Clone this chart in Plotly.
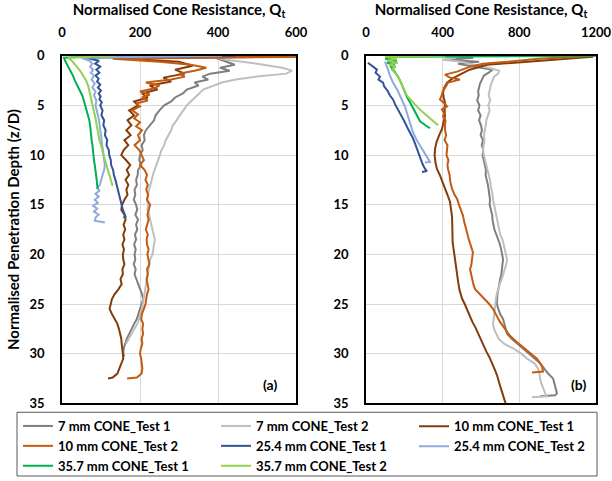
import plotly.graph_objects as go

# ---------------- data: (depth z/D, normalised cone resistance Qt) ----------------
SERIES_NAMES = ["7 mm CONE_Test 1", "7 mm CONE_Test 2", "10 mm CONE_Test 1", "10 mm CONE_Test 2",
                "25.4 mm CONE_Test 1", "25.4 mm CONE_Test 2", "35.7 mm CONE_Test 1", "35.7 mm CONE_Test 2"]
COLORS = ["#7F7F7F", "#BFBFBF", "#843C0C", "#C55A11", "#2F5597", "#8FAADC", "#00B050", "#92D050"]
# legend column of each series (reference legend reads row by row, three per row)
LEGEND_COLUMN = ["legend", "legend2", "legend3", "legend", "legend2", "legend3", "legend", "legend2"]

# Panel (a)
A_7_1 = [(0, 380), (0.3, 400), (0.6, 425), (0.9, 443), (1.2, 405), (1.5, 430), (1.8, 380), (2.1, 360), (2.4, 375),
         (2.7, 340), (3.0, 350), (3.4, 320), (3.8, 310), (4.2, 290), (4.6, 280), (5.0, 262), (5.5, 250), (6.0, 240),
         (6.5, 236), (7.0, 226), (7.5, 215), (8.0, 210), (8.5, 212), (9.0, 204), (9.5, 207), (10.0, 200), (10.5, 198),
         (11.0, 203), (11.5, 195), (12.0, 194), (12.5, 190), (13.0, 192), (13.5, 186), (14.0, 188), (14.5, 184),
         (15.0, 190), (15.5, 193), (16.0, 188), (16.5, 195), (17.0, 190), (17.5, 193), (18.0, 187), (18.5, 190),
         (19.0, 185), (19.5, 189), (20.0, 186), (20.5, 188), (21.0, 184), (21.5, 189), (22.0, 186), (22.5, 191),
         (23.0, 194), (23.5, 200), (24.0, 205), (24.5, 208), (25.0, 204), (25.5, 200), (26.0, 196), (26.5, 192),
         (27.0, 185), (27.5, 178), (28.0, 172), (28.5, 166), (29.0, 162), (29.5, 158), (30.0, 157), (30.3, 160)]
A_7_2 = [(0, 380), (0.4, 420), (0.8, 500), (1.2, 565), (1.5, 590), (1.8, 575), (2.1, 500), (2.4, 445), (2.7, 410),
         (3.0, 390), (3.4, 362), (3.8, 352), (4.2, 340), (4.6, 330), (5.0, 320), (5.5, 310), (6.0, 302), (6.5, 294),
         (7.0, 284), (7.5, 280), (8.0, 272), (8.5, 266), (9.0, 262), (9.5, 255), (10.0, 251), (10.5, 246), (11.0, 242),
         (11.5, 237), (12.0, 233), (12.5, 230), (13.0, 226), (13.5, 223), (14.0, 220), (14.5, 218), (15.0, 221),
         (15.5, 219), (16.0, 224), (16.5, 226), (17.0, 229), (17.5, 232), (18.0, 236), (18.5, 238), (19.0, 236),
         (19.5, 234), (20.0, 232), (20.5, 226), (21.0, 224), (21.5, 221), (22.0, 219), (22.5, 218), (23.0, 215),
         (23.5, 213), (24.0, 212), (24.5, 209), (25.0, 207), (25.5, 205), (26.0, 201), (26.5, 198), (27.0, 193),
         (27.5, 186), (28.0, 178), (28.5, 170), (29.0, 164)]
A_10_1 = [(0, 800), (0.25, 140), (0.6, 300), (1.0, 335), (1.4, 290), (1.8, 315), (2.2, 260), (2.6, 280), (3.0, 225),
          (3.4, 245), (3.8, 205), (4.2, 220), (4.6, 185), (5.0, 195), (5.5, 172), (6.0, 185), (6.5, 168), (7.0, 178),
          (7.5, 165), (8.0, 176), (8.5, 160), (9.0, 170), (9.5, 158), (10.0, 152), (10.5, 164), (11.0, 175),
          (11.5, 166), (12.0, 172), (12.5, 163), (13.0, 170), (13.5, 165), (14.0, 168), (14.5, 160), (15.0, 154),
          (15.5, 152), (16.0, 160), (16.5, 163), (17.0, 158), (17.5, 162), (18.0, 157), (18.5, 160), (19.0, 155),
          (19.5, 159), (20.0, 156), (20.5, 157), (21.0, 160), (21.5, 155), (22.0, 156), (22.5, 150), (23.0, 153),
          (23.5, 145), (24.0, 135), (24.5, 128), (25.0, 124), (25.5, 122), (26.0, 128), (26.5, 135), (27.0, 142),
          (27.5, 146), (28.0, 150), (28.5, 152), (29.0, 153), (29.5, 155), (30.0, 156), (30.5, 157), (31.0, 152),
          (31.5, 148), (32.0, 142), (32.4, 130), (32.5, 118)]
A_10_2 = [(0, 900), (0.3, 130), (0.6, 250), (0.9, 330), (1.2, 370), (1.5, 340), (1.8, 300), (2.1, 315), (2.4, 280),
          (2.7, 215), (3.0, 250), (3.3, 235), (3.6, 200), (3.9, 225), (4.2, 205), (4.5, 220), (4.8, 190), (5.1, 200),
          (5.5, 180), (5.9, 195), (6.3, 185), (6.7, 200), (7.1, 190), (7.5, 205), (8.0, 195), (8.5, 200), (9.0, 186),
          (9.5, 198), (10.0, 204), (10.5, 210), (11.0, 200), (11.5, 212), (12.0, 218), (12.5, 214), (13.0, 220),
          (13.5, 216), (14.0, 221), (14.5, 218), (15.0, 226), (15.5, 222), (16.0, 219), (16.5, 222), (17.0, 218),
          (17.5, 215), (18.0, 220), (18.5, 217), (19.0, 218), (19.5, 222), (20.0, 219), (20.5, 221), (21.0, 224),
          (21.5, 218), (22.0, 220), (22.5, 217), (23.0, 219), (23.5, 222), (24.0, 218), (24.5, 216), (25.0, 214),
          (25.5, 210), (26.0, 205), (26.5, 203), (27.0, 208), (27.5, 206), (28.0, 208), (28.5, 204), (29.0, 206),
          (29.5, 202), (30.0, 200), (30.5, 203), (31.0, 205), (31.5, 206), (32.0, 204), (32.4, 192), (32.5, 167)]
A_25_1 = [(0, 445), (0.2, 60), (0.5, 95), (0.8, 85), (1.1, 98), (1.4, 88), (1.7, 96), (2.0, 86), (2.3, 94), (2.6, 90),
          (2.9, 98), (3.2, 92), (3.5, 100), (3.8, 94), (4.1, 99), (4.4, 96), (4.7, 102), (5.0, 98), (5.5, 104),
          (6.0, 101), (6.5, 108), (7.0, 106), (7.5, 112), (8.0, 110), (8.5, 116), (9.0, 114), (9.5, 120), (10.0, 121),
          (10.5, 125), (11.0, 126), (11.5, 131), (12.0, 133), (12.5, 137), (13.0, 140), (13.5, 143), (14.0, 146),
          (14.5, 149), (15.0, 153), (15.5, 156), (15.9, 160), (16.2, 163), (16.3, 157)]
A_25_2 = [(0, 410), (0.2, 50), (0.5, 70), (0.8, 78), (1.1, 72), (1.4, 80), (1.7, 74), (2.0, 82), (2.4, 76), (2.8, 84),
          (3.2, 78), (3.6, 86), (4.0, 82), (4.5, 88), (5.0, 86), (5.5, 90), (6.0, 92), (6.5, 95), (7.0, 96), (7.5, 98),
          (8.0, 100), (8.5, 101), (9.0, 103), (9.5, 105), (10.0, 106), (10.5, 108), (11.0, 110), (11.5, 108),
          (12.0, 104), (12.5, 100), (13.0, 97), (13.3, 90), (13.6, 96), (13.9, 86), (14.2, 94), (14.5, 84), (14.8, 92),
          (15.1, 80), (15.4, 90), (15.7, 82), (16.0, 94), (16.3, 86), (16.6, 84), (16.8, 110)]
A_35_1 = [(0, 120), (0.2, 5), (0.5, 8), (0.8, 12), (1.2, 18), (1.6, 24), (2.0, 28), (2.5, 33), (3.0, 40), (3.5, 46),
          (4.0, 52), (4.5, 56), (5.0, 60), (5.5, 64), (6.0, 68), (6.5, 70), (7.0, 72), (7.5, 73), (8.0, 75), (8.5, 76),
          (9.0, 78), (9.5, 79), (10.0, 80), (10.5, 82), (11.0, 84), (11.5, 86), (12.0, 87), (12.5, 89), (13.0, 90),
          (13.4, 92)]
A_35_2 = [(0, 136), (0.2, 15), (0.5, 25), (0.8, 32), (1.2, 40), (1.6, 48), (2.0, 55), (2.5, 62), (3.0, 67), (3.5, 70),
          (4.0, 73), (4.5, 75), (5.0, 78), (5.5, 81), (6.0, 84), (6.5, 87), (7.0, 89), (7.5, 91), (8.0, 94), (8.5, 96),
          (9.0, 100), (9.5, 103), (10.0, 106), (10.5, 110), (11.0, 114), (11.5, 118), (12.0, 122), (12.5, 126),
          (13.0, 129), (13.1, 128)]

# Panel (b)
B_7_1 = [(0, 400), (0.2, 560), (0.4, 420), (0.6, 590), (0.8, 480), (1.1, 580), (1.4, 660), (1.7, 640), (2.0, 615),
         (2.4, 605), (2.8, 595), (3.2, 590), (3.6, 585), (4.0, 588), (4.5, 580), (5.0, 592), (5.5, 585), (6.0, 598),
         (6.5, 590), (7.0, 600), (7.5, 605), (8.0, 598), (8.5, 610), (9.0, 604), (9.5, 612), (10.0, 608), (10.5, 615),
         (11.0, 620), (11.5, 626), (12.0, 624), (12.5, 631), (13.0, 636), (13.5, 640), (14.0, 643), (14.5, 647),
         (15.0, 645), (15.5, 652), (16.0, 658), (16.5, 660), (17.0, 665), (17.5, 670), (18.0, 680), (18.5, 690),
         (19.0, 699), (19.5, 705), (20.0, 712), (20.5, 715), (21.0, 712), (21.5, 710), (22.0, 706), (22.5, 700),
         (23.0, 694), (23.5, 689), (24.0, 686), (24.5, 684), (25.0, 683), (25.5, 690), (26.0, 700), (26.5, 715),
         (27.0, 722), (27.5, 728), (28.0, 736), (28.5, 760), (29.0, 790), (29.5, 819), (30.0, 850), (30.5, 880),
         (31.0, 910), (31.5, 930), (32.0, 950), (32.5, 976), (33.0, 985), (33.5, 990), (34.0, 996), (34.2, 986),
         (34.3, 908)]
B_7_2 = [(0, 390), (0.2, 470), (0.4, 400), (0.6, 500), (0.9, 560), (1.2, 640), (1.5, 695), (1.8, 690), (2.1, 668),
         (2.5, 660), (3.0, 650), (3.5, 645), (4.0, 640), (4.5, 648), (5.0, 638), (5.5, 645), (6.0, 635), (6.5, 628),
         (7.0, 625), (7.5, 620), (8.0, 615), (8.5, 618), (9.0, 612), (9.5, 610), (10.0, 615), (10.5, 622), (11.0, 628),
         (11.5, 635), (12.0, 642), (12.5, 647), (13.0, 650), (13.5, 656), (14.0, 660), (14.5, 663), (15.0, 668),
         (15.5, 674), (16.0, 680), (16.5, 684), (17.0, 689), (17.5, 695), (18.0, 700), (18.5, 712), (19.0, 718),
         (19.5, 724), (20.0, 730), (20.5, 736), (21.0, 732), (21.5, 725), (22.0, 717), (22.5, 708), (23.0, 698),
         (23.5, 688), (24.0, 682), (24.5, 678), (25.0, 675), (25.5, 672), (26.0, 668), (26.5, 666), (27.0, 663),
         (27.5, 668), (28.0, 680), (28.5, 692), (29.0, 720), (29.5, 770), (30.0, 810), (30.5, 840), (31.0, 880),
         (31.5, 898), (32.0, 905), (32.5, 908), (33.0, 915), (33.5, 923), (34.0, 935), (34.3, 944), (34.4, 866)]
B_10_1 = [(0.1, 1185), (0.6, 803), (0.9, 631), (1.4, 540), (1.9, 490), (2.3, 450), (2.7, 423), (3.2, 408), (3.7, 402),
          (4.2, 405), (4.7, 412), (5.4, 410), (6.1, 412), (6.8, 404), (7.4, 396), (8.0, 382), (8.7, 368), (9.4, 360),
          (10.0, 358), (10.7, 362), (11.4, 370), (12.0, 385), (12.7, 400), (13.4, 412), (14.0, 425), (14.7, 438),
          (15.5, 446), (16.2, 449), (17.0, 450), (18.0, 449), (18.8, 452), (19.6, 458), (20.4, 463), (21.2, 468),
          (22.0, 475), (22.8, 481), (23.6, 488), (24.4, 500), (25.0, 515), (25.6, 528), (26.2, 540), (26.8, 555),
          (27.4, 572), (28.0, 585), (28.6, 598), (29.2, 615), (29.8, 628), (30.4, 645), (31.0, 660), (31.6, 672),
          (32.2, 684), (32.8, 692), (33.4, 702), (34.0, 712), (34.6, 720), (35.0, 728)]
B_10_2 = [(0, 1200), (0.3, 900), (0.6, 736), (0.8, 610), (1.1, 543), (1.4, 500), (1.6, 475), (1.9, 412), (2.2, 438),
          (2.4, 490), (2.7, 428), (3.0, 420), (3.2, 412), (3.6, 400), (4.0, 395), (4.4, 386), (4.8, 410), (5.1, 423),
          (5.4, 396), (5.8, 408), (6.1, 402), (6.5, 415), (7.1, 412), (7.4, 412), (8.0, 418), (8.5, 410), (9.0, 425),
          (9.4, 423), (10.0, 420), (10.5, 430), (11.0, 425), (11.4, 428), (12.0, 436), (12.7, 440), (13.4, 449),
          (14.0, 462), (14.4, 475), (15.0, 485), (15.5, 495), (16.1, 506), (16.7, 512), (17.2, 520), (17.8, 527),
          (18.4, 535), (19.1, 545), (19.8, 558), (20.5, 553), (21.0, 550), (21.5, 543), (22.0, 548), (22.5, 553),
          (23.0, 560), (23.5, 569), (24.0, 595), (24.5, 621), (25.0, 643), (25.5, 663), (26.2, 682), (26.8, 699),
          (27.5, 725), (28.2, 751), (28.8, 785), (29.5, 830), (30.0, 860), (30.5, 892), (31.0, 910), (31.4, 920),
          (31.8, 923), (31.9, 866)]
B_25_1 = [(0.7, 10), (1.0, 30), (1.4, 57), (1.7, 50), (2.1, 73), (2.4, 65), (2.7, 89), (3.1, 95), (3.5, 112),
          (4.0, 125), (4.4, 141), (4.9, 152), (5.5, 170), (6.1, 188), (6.6, 200), (7.2, 215), (7.7, 230), (8.3, 245),
          (8.8, 255), (9.4, 266), (9.9, 275), (10.4, 282), (10.9, 295), (11.4, 308), (11.6, 318), (11.7, 292)]
B_25_2 = [(0.6, 99), (1.0, 108), (1.4, 115), (2.0, 125), (2.7, 141), (3.5, 165), (4.4, 188), (5.2, 205), (6.1, 219),
          (6.9, 232), (7.7, 245), (8.5, 265), (9.4, 292), (10.0, 310), (10.4, 324), (10.7, 334), (10.75, 308)]
B_35_1 = [(0, 1190), (0.1, 150), (0.3, 100), (0.5, 160), (0.7, 110), (0.9, 150), (1.1, 130), (1.5, 145), (2.1, 167),
          (2.8, 185), (3.7, 203), (4.2, 215), (4.7, 230), (5.2, 243), (5.7, 256), (6.2, 268), (6.6, 282), (7.0, 310),
          (7.3, 334)]
B_35_2 = [(0, 412), (0.1, 100), (0.3, 160), (0.5, 110), (0.7, 165), (0.9, 120), (1.1, 155), (1.4, 135), (1.8, 155),
          (2.1, 167), (2.8, 185), (3.7, 203), (4.2, 222), (4.7, 245), (5.2, 270), (5.7, 297), (6.1, 320), (6.6, 350),
          (7.0, 376)]

PANEL_A = [A_7_1, A_7_2, A_10_1, A_10_2, A_25_1, A_25_2, A_35_1, A_35_2]
PANEL_B = [B_7_1, B_7_2, B_10_1, B_10_2, B_25_1, B_25_2, B_35_1, B_35_2]

X_TICKS_A = [0, 200, 400, 600]
X_TICKS_B = [0, 400, 800, 1200]
Y_TICKS = [0, 5, 10, 15, 20, 25, 30, 35]

FONT = "Lato"
W, H = 612, 481

fig = go.Figure()
for i, (name, col) in enumerate(zip(SERIES_NAMES, COLORS)):
    za, qa = zip(*PANEL_A[i])
    zb, qb = zip(*PANEL_B[i])
    fig.add_trace(go.Scatter(x=qa, y=za, mode="lines", name=name, legendgroup=name, legend=LEGEND_COLUMN[i],
                             line=dict(color=col, width=2), xaxis="x", yaxis="y"))
    fig.add_trace(go.Scatter(x=qb, y=zb, mode="lines", name=name, legendgroup=name, showlegend=False,
                             line=dict(color=col, width=2), xaxis="x2", yaxis="y2"))


def px_x(p):
    return p / W


def px_y(p):
    return 1 - p / H


tickfont = dict(family=FONT, size=13, color="#000000", weight="bold")
titlefont = dict(family=FONT, size=15, color="#000000", weight="bold")
legfont = dict(family=FONT, size=13, color="#000000", weight="bold")

common_x = dict(side="top", showgrid=True, gridcolor="#D9D9D9", gridwidth=1, showline=True, linecolor="#000000",
                linewidth=1.5, mirror=True, ticks="", zeroline=False, tickfont=tickfont, automargin=False,
                ticklabelstandoff=12, title=dict(text="Normalised Cone Resistance, Q<sub>t</sub>", font=titlefont,
                                                  standoff=5))
common_y = dict(showgrid=True, gridcolor="#D9D9D9", gridwidth=1, showline=True, linecolor="#000000", linewidth=1.5,
                mirror=True, ticks="", zeroline=False, tickfont=tickfont, automargin=False, range=[35, 0],
                tickvals=Y_TICKS, ticklabelstandoff=13)


def leg(xpx):
    return dict(orientation="v", x=px_x(xpx), xanchor="left", y=px_y(413), yanchor="top",
                borderwidth=0, bgcolor="rgba(0,0,0,0)", font=legfont, itemwidth=30, traceorder="normal",
                tracegroupgap=2)


fig.update_layout(
    width=W, height=H, margin=dict(l=0, r=0, t=0, b=0),
    paper_bgcolor="white", plot_bgcolor="white",
    font=dict(family=FONT, size=13, color="#000000"),
    xaxis=dict(common_x, domain=[px_x(62), px_x(296)], range=[0, 600], tickvals=X_TICKS_A, anchor="y"),
    yaxis=dict(common_y, domain=[px_y(405), px_y(56)], anchor="x",
               title=dict(text="Normalised Penetration Depth (z/D)", font=titlefont, standoff=6)),
    xaxis2=dict(common_x, domain=[px_x(366), px_x(596)], range=[0, 1200], tickvals=X_TICKS_B, anchor="y2"),
    yaxis2=dict(common_y, domain=[px_y(405), px_y(56)], anchor="x2"),
    showlegend=True,
    legend=leg(18),
    legend2=leg(216),
    legend3=leg(414),
    shapes=[dict(type="rect", xref="paper", yref="paper", x0=px_x(17), x1=px_x(597), y0=px_y(478), y1=px_y(414),
                 line=dict(color="#595959", width=1), fillcolor="rgba(0,0,0,0)", layer="below")],
    annotations=[
        dict(text="(a)", x=px_x(270), y=px_y(386), xref="paper", yref="paper", showarrow=False,
             xanchor="center", yanchor="middle",
             font=dict(family=FONT, size=14, color="#000000", weight="bold")),
        dict(text="(b)", x=px_x(578), y=px_y(386), xref="paper", yref="paper", showarrow=False,
             xanchor="center", yanchor="middle",
             font=dict(family=FONT, size=14, color="#000000", weight="bold")),
    ],
)

fig.write_html("out.html")
